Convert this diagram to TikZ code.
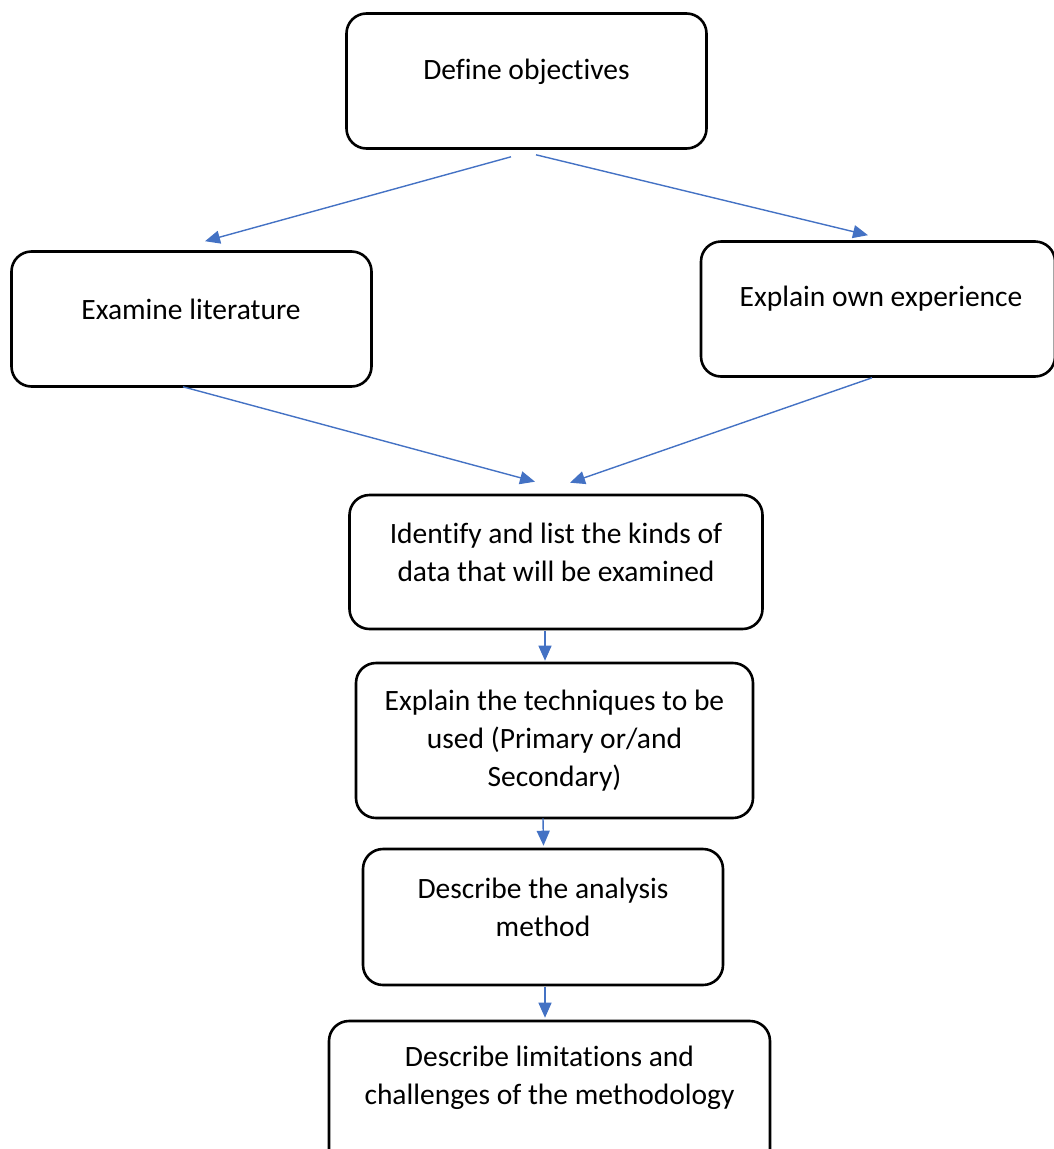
\documentclass[tikz,border=0pt]{standalone}
\usepackage{fontspec}
\setmainfont{Carlito}[Ligatures=CommonOff]
\usetikzlibrary{arrows.meta}
\definecolor{flowblue}{HTML}{4472C4}
\begin{document}
\begin{tikzpicture}[x=1pt,y=-1pt,
  stepbox/.style={draw=black, line width=2.6pt, rounded corners=20pt, fill=white, inner sep=0pt},
  steptext/.style={align=center, font=\fontsize{29.5}{38}\selectfont, inner sep=0pt},
  flow/.style={draw=flowblue, line width=1.4pt, -{Triangle[length=15pt,width=13pt]}}]
  \useasboundingbox (0,0) rectangle (1054,1149);

  % step boxes
  \node[stepbox, minimum width=360, minimum height=135] (def) at (526.5,81) {};
  \node[stepbox, minimum width=360, minimum height=135] (lit) at (191.5,319) {};
  \node[stepbox, minimum width=354, minimum height=135] (exp) at (878,309) {};
  \node[stepbox, minimum width=413, minimum height=134] (kinds) at (556,562) {};
  \node[stepbox, minimum width=397, minimum height=155] (tech) at (554.5,740.5) {};
  \node[stepbox, minimum width=360, minimum height=136] (anal) at (543,917) {};
  \node[stepbox, minimum width=441, minimum height=150] (lim) at (549.5,1096) {};

  % labels
  \node[steptext] (defT) at (526.5,72) {Define objectives};
  \node[steptext] (litT) at (191,309) {Examine literature};
  \node[steptext] (expT) at (881,299) {Explain own experience};
  \node[steptext] (kindsT) at (556,552) {Identify and list the kinds of\\data that will be examined};
  \node[steptext] (techT) at (554.5,741) {Explain the techniques to be\\used (Primary or/and\\Secondary)};
  \node[steptext] (analT) at (543,907) {Describe the analysis\\method};
  \node[steptext] (limT) at (549.5,1078) {Describe limitations and\\challenges of the methodology};

  % connectors
  \draw[flow] ([shift={(-15.5,7)}]def.south) -- ([shift={(13.5,-9)}]lit.north);
  \draw[flow] ([shift={(9.5,5)}]def.south) -- ([shift={(-10,-5)}]exp.north);
  \draw[flow] ([shift={(-8.5,-1)}]lit.south) -- ([shift={(-21,-12)}]kinds.north);
  \draw[flow] ([shift={(-6,0)}]exp.south) -- ([shift={(14,-11)}]kinds.north);
  \draw[flow] ([shift={(-11,1)}]kinds.south) -- ([shift={(-9.5,-1)}]tech.north);
  \draw[flow] ([shift={(-11.5,-1)}]tech.south) -- ([shift={(0.5,-2)}]anal.north);
  \draw[flow] ([shift={(2,1)}]anal.south) -- ([shift={(-4.5,-2)}]lim.north);
\end{tikzpicture}
\end{document}
